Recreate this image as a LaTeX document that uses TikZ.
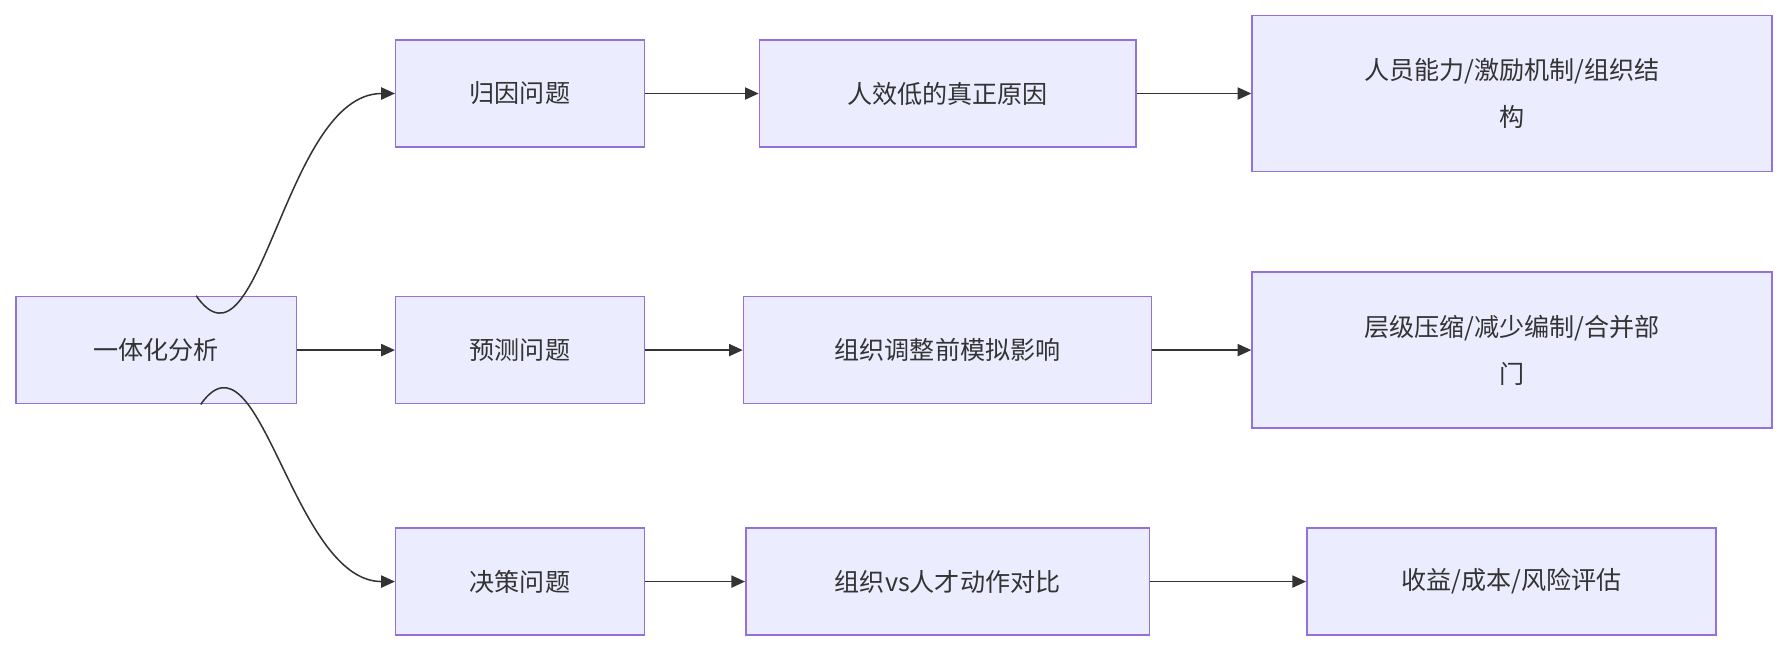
\documentclass[tikz,border=0pt]{standalone}
\usepackage{fontspec}
\setmainfont{Noto Sans CJK SC}
\usetikzlibrary{arrows.meta}
\definecolor{boxfill}{HTML}{ECECFF}
\definecolor{boxline}{HTML}{9370DB}
\definecolor{ink}{HTML}{333333}
\tikzset{
  box/.style={draw=boxline, fill=boxfill, line width=1pt, text=ink, align=center,
    inner sep=0pt, font=\fontsize{16.5}{30.75}\selectfont},
  link/.style={draw=ink, line width=1pt, -{Triangle[length=9pt,width=8pt]}}
}
\begin{document}
\begin{tikzpicture}[x=0.75pt,y=-0.75pt]
    \useasboundingbox (0,0) rectangle (1568,572);
    \node[box, minimum width=184.5pt, minimum height=70.5pt] (ana) at (137,307) {一体化分析};
    \node[box, minimum width=163.5pt, minimum height=70.5pt] (attr) at (456,82) {归因问题};
    \node[box, minimum width=163.5pt, minimum height=70.5pt] (pred) at (456,307) {预测问题};
    \node[box, minimum width=163.5pt, minimum height=70.5pt] (dec) at (456,510) {决策问题};
    \node[box, minimum width=247.5pt, minimum height=70.5pt] (cause) at (831,82) {人效低的真正原因};
    \node[box, minimum width=268.5pt, minimum height=70.5pt] (sim) at (831,307) {组织调整前模拟影响};
    \node[box, minimum width=265.5pt, minimum height=70.5pt] (cmp) at (831,510) {组织vs人才动作对比};
    \node[box, minimum width=342pt, minimum height=102.75pt] (res1) at (1326,82) {人员能力/激励机制/组织结\\构};
    \node[box, minimum width=342pt, minimum height=102.75pt] (res2) at (1326,307) {层级压缩/减少编制/合并部\\门};
    \node[box, minimum width=269.25pt, minimum height=70.5pt] (res3) at (1325.5,510) {收益/成本/风险评估};

    \draw[link] ([xshift=26.25pt]ana.north) to[out=-55,in=180] (attr.west);
    \draw[link] (ana.east) -- (pred.west);
    \draw[link] ([xshift=29.25pt]ana.south) to[out=55,in=180] (dec.west);
    \draw[link] (attr) -- (cause);
    \draw[link] (pred) -- (sim);
    \draw[link] (dec) -- (cmp);
    \draw[link] (cause) -- (res1);
    \draw[link] (sim) -- (res2);
    \draw[link] (cmp) -- (res3);
\end{tikzpicture}
\end{document}
